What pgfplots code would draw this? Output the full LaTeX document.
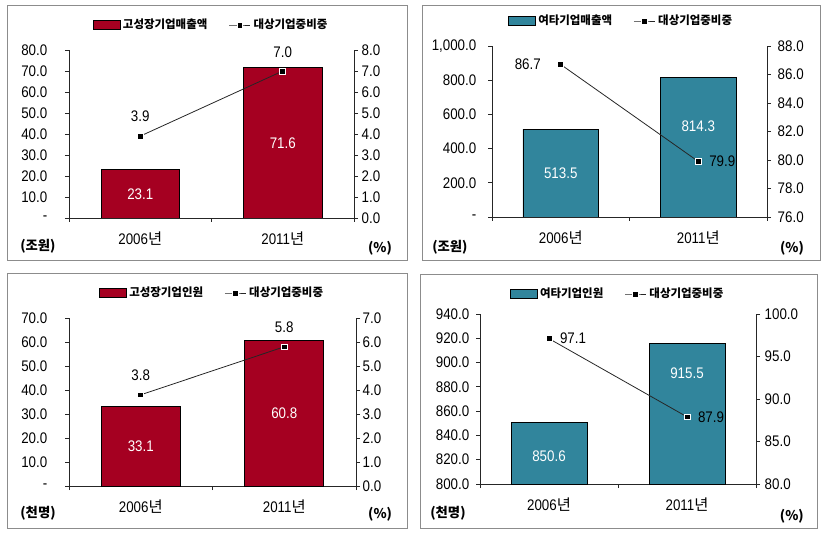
\documentclass[border=0pt]{standalone}
\usepackage{fontspec}
\usepackage{pgfplots}
\pgfplotsset{compat=1.18}
\setmainfont{Liberation Sans}[FakeStretch=0.87]
\newfontfamily\kr{Noto Sans CJK KR}
\definecolor{barred}{HTML}{A50021}
\definecolor{barteal}{HTML}{31859C}
\newcommand\tickfont{\fontsize{11.5}{13}\selectfont}
\newcommand\legfont{\kr\bfseries\fontsize{8.6}{10}\selectfont}
\newcommand\unitfont{\kr\bfseries\fontsize{10}{12}\selectfont}
\pgfplotsset{
  base/.style={scale only axis, anchor=south west, xmin=-0.5, xmax=1.5,
    tick align=outside, major tick length=3pt, minor tick length=3pt,
    ticklabel style={font=\tickfont},
    /pgf/number format/assume math mode=true,
    axis line style={black!85, line width=0.6pt},
    tick style={black!85, line width=0.6pt},
    clip mode=individual},
  leftax/.style={base, axis y line*=left, axis x line*=bottom,
    xtick={0,1}, xticklabels={2006{\kr 년},2011{\kr 년}},
    major x tick style={draw=none},
    minor xtick={-0.5,0.5,1.5},
    xticklabel shift=4pt},
  rightax/.style={base, axis y line*=right, axis x line=none,
    legend style={at={(0.5,1)}, anchor=center, yshift=18.75pt, draw=none, fill=none,
      font=\legfont, legend columns=2, inner sep=1pt,
      /tikz/every even column/.append style={column sep=14pt}}},
  linestyle/.style={black!85, line width=0.6pt, mark=square*, mark size=2.2pt,
    mark options={fill=black, draw=white, line width=0.5pt},
    nodes near coords, point meta=explicit symbolic,
    visualization depends on={value \thisrow{dx}\as\dx},
    visualization depends on={value \thisrow{dy}\as\dy},
    every node near coord/.style={anchor=center, xshift=\dx pt, yshift=\dy pt, font=\tickfont, text=black},
    legend image code/.code={\draw[mark repeat=2,mark phase=2,##1] plot coordinates {(0pt,0pt) (8pt,0pt) (16pt,0pt)};}},
  barlab/.style={draw=none, mark=none, nodes near coords, point meta=explicit symbolic,
    every node near coord/.style={anchor=center, text=white, font=\tickfont}},
}
\begin{document}
\begin{tikzpicture}
\path[use as bounding box] (0,0) rectangle (622.5pt,399pt);
\draw[black!45, line width=0.6pt] (5.25pt,204pt) rectangle (305.25pt,395.25pt);
\draw[black!45, line width=0.6pt] (316.5pt,204pt) rectangle (615pt,395.25pt);
\draw[black!45, line width=0.6pt] (5.25pt,3pt) rectangle (305.25pt,194.25pt);
\draw[black!45, line width=0.6pt] (315pt,3pt) rectangle (612.75pt,193.5pt);

% ---------- Panel 1 ----------
\begin{axis}[leftax, at={(51.75pt,235.5pt)}, width=213.75pt, height=126pt,
  ymin=0, ymax=80, ytick={0,10,...,80},
  yticklabels={-,10.0,20.0,30.0,40.0,50.0,60.0,70.0,80.0},
  yticklabel style={xshift=-9.75pt}]
\addplot[ybar, bar width=0.55, fill=barred, draw=black, line width=0.5pt] coordinates {(0,23.1) (1,71.6)};
\addplot[barlab] coordinates {(0,11.55)[23.1] (1,35.8)[71.6]};
\node[font=\unitfont] at (rel axis cs:-0.109,-0.168) {(조원)};
\node[font=\unitfont] at (rel axis cs:1.091,-0.179) {(\%)};
\end{axis}
\begin{axis}[rightax, at={(51.75pt,235.5pt)}, width=213.75pt, height=126pt,
  ymin=0, ymax=8, ytick={0,1,...,8},
  yticklabels={0.0,1.0,2.0,3.0,4.0,5.0,6.0,7.0,8.0},
  yticklabel style={xshift=-0.75pt}]
\addlegendimage{legend image code/.code={\draw[fill=barred, draw=black, line width=0.5pt] (0pt,-3.4pt) rectangle (20pt,3.4pt);}}
\addlegendentry{고성장기업매출액}
\addplot[linestyle] table[meta=lab] {
x y lab dx dy
0 3.9 3.9 0 15
1 7.0 7.0 0 14
};
\addlegendentry{대상기업중비중}
\end{axis}

% ---------- Panel 2 ----------
\begin{axis}[leftax, at={(369pt,236.25pt)}, width=206.25pt, height=128.25pt,
  ymin=0, ymax=1000, ytick={0,200,...,1000},
  yticklabels={-,200.0,400.0,600.0,800.0,{1,000.0}},
  yticklabel style={xshift=-5.25pt}]
\addplot[ybar, bar width=0.55, fill=barteal, draw=black, line width=0.5pt] coordinates {(0,513.5) (1,814.3)};
\addplot[barlab] coordinates {(0,257)[513.5] (1,532)[814.3]};
\node[font=\unitfont] at (rel axis cs:-0.153,-0.175) {(조원)};
\node[font=\unitfont] at (rel axis cs:1.091,-0.181) {(\%)};
\end{axis}
\begin{axis}[rightax, at={(369pt,236.25pt)}, width=206.25pt, height=128.25pt,
  ymin=76, ymax=88, ytick={76,78,...,88},
  yticklabels={76.0,78.0,80.0,82.0,84.0,86.0,88.0},
  yticklabel style={xshift=1.5pt},
  legend style={xshift=-6pt}]
\addlegendimage{legend image code/.code={\draw[fill=barteal, draw=black, line width=0.5pt] (0pt,-3.4pt) rectangle (20pt,3.4pt);}}
\addlegendentry{여타기업매출액}
\addplot[linestyle] table[meta=lab] {
x y lab dx dy
0 86.7 86.7 -24.75 0
1 79.9 79.9 18 0
};
\addlegendentry{대상기업중비중}
\end{axis}

% ---------- Panel 3 ----------
\begin{axis}[leftax, at={(51.75pt,34.5pt)}, width=215.25pt, height=126pt,
  ymin=0, ymax=70, ytick={0,10,...,70},
  yticklabels={-,10.0,20.0,30.0,40.0,50.0,60.0,70.0},
  yticklabel style={xshift=-9.75pt}]
\addplot[ybar, bar width=0.55, fill=barred, draw=black, line width=0.5pt] coordinates {(0,33.1) (1,60.8)};
\addplot[barlab] coordinates {(0,16.55)[33.1] (1,30.4)[60.8]};
\node[font=\unitfont] at (rel axis cs:-0.108,-0.161) {(천명)};
\node[font=\unitfont] at (rel axis cs:1.084,-0.167) {(\%)};
\end{axis}
\begin{axis}[rightax, at={(51.75pt,34.5pt)}, width=215.25pt, height=126pt,
  ymin=0, ymax=7, ytick={0,1,...,7},
  yticklabels={0.0,1.0,2.0,3.0,4.0,5.0,6.0,7.0},
  yticklabel style={xshift=-1.5pt}]
\addlegendimage{legend image code/.code={\draw[fill=barred, draw=black, line width=0.5pt] (0pt,-3.4pt) rectangle (20pt,3.4pt);}}
\addlegendentry{고성장기업인원}
\addplot[linestyle] table[meta=lab] {
x y lab dx dy
0 3.8 3.8 0 15
1 5.8 5.8 0 15
};
\addlegendentry{대상기업중비중}
\end{axis}

% ---------- Panel 4 ----------
\begin{axis}[leftax, at={(360pt,36pt)}, width=207pt, height=127.5pt,
  ymin=800, ymax=940, ytick={800,820,...,940},
  yticklabels={800.0,820.0,840.0,860.0,880.0,900.0,920.0,940.0},
  yticklabel style={xshift=-1.5pt}]
\addplot[ybar, bar width=0.55, fill=barteal, draw=black, line width=0.5pt] coordinates {(0,850.6) (1,915.5)};
\addplot[barlab] coordinates {(0,823)[850.6] (1,891.4)[915.5]};
\node[font=\unitfont] at (rel axis cs:-0.116,-0.171) {(천명)};
\node[font=\unitfont] at (rel axis cs:1.13,-0.188) {(\%)};
\end{axis}
\begin{axis}[rightax, at={(360pt,36pt)}, width=207pt, height=127.5pt,
  ymin=80, ymax=100, ytick={80,85,...,100},
  yticklabels={80.0,85.0,90.0,95.0,100.0},
  yticklabel style={xshift=0pt},
  legend style={yshift=-3.75pt}]
\addlegendimage{legend image code/.code={\draw[fill=barteal, draw=black, line width=0.5pt] (0pt,-3.4pt) rectangle (20pt,3.4pt);}}
\addlegendentry{여타기업인원}
\addplot[linestyle] table[meta=lab] {
x y lab dx dy
0 97.1 97.1 18 0
1 87.9 87.9 18 0
};
\addlegendentry{대상기업중비중}
\end{axis}
\end{tikzpicture}
\end{document}
